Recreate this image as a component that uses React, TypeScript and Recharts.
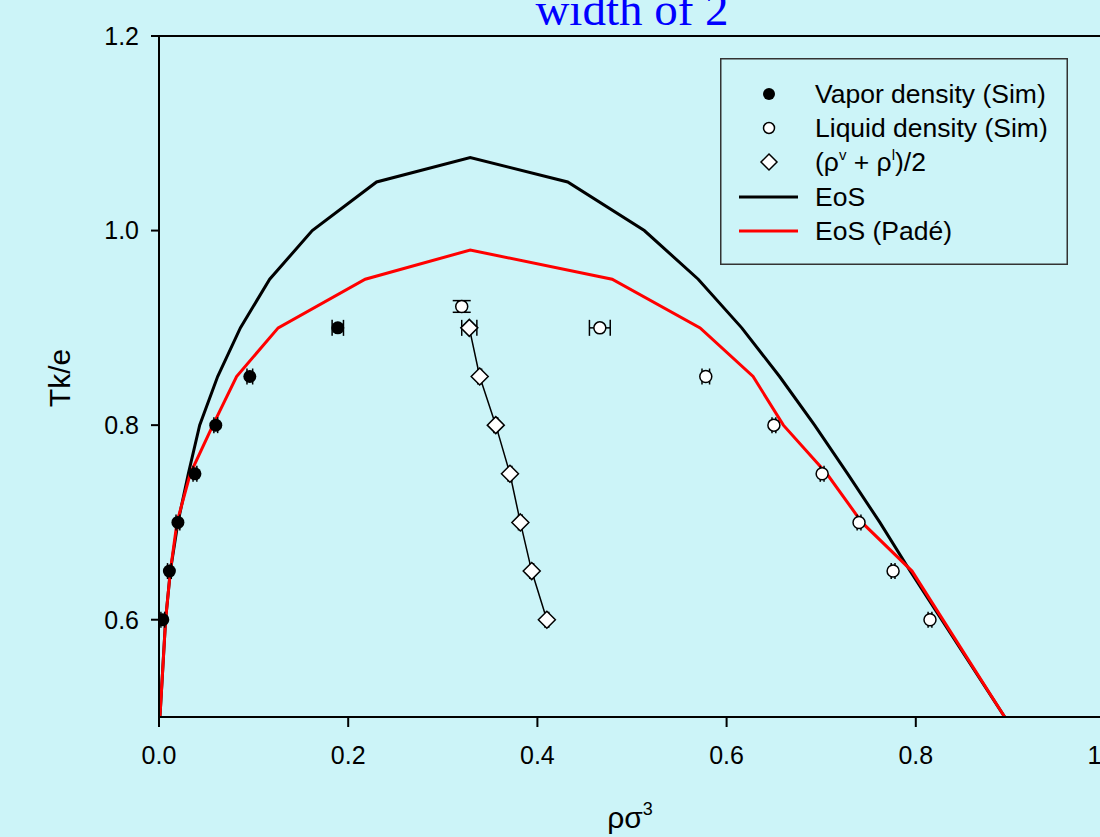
import React from 'react';
import {
  ComposedChart,
  Line,
  Scatter,
  XAxis,
  YAxis,
  ErrorBar,
  ReferenceLine,
  Legend,
} from 'recharts';

// temperatures of the simulated points
const temps = [0.6, 0.65, 0.7, 0.75, 0.8, 0.85, 0.9];

const vaporX = [0.004, 0.011, 0.02, 0.038, 0.06, 0.096, 0.189];
const vaporErr = [0.002, 0.002, 0.002, 0.002, 0.002, 0.003, 0.006];

const liquidX = [0.815, 0.776, 0.74, 0.701, 0.65, 0.578, 0.466];
const liquidErr = [0.002, 0.002, 0.002, 0.002, 0.002, 0.004, 0.011];

// extra open point near the top of the coexistence curve
const critX = [0.32];
const critT = [0.922];
const critErrX = [0.004];
const critErrT = [0.006];

const meanX = [0.41, 0.394, 0.382, 0.371, 0.356, 0.339, 0.328];
const meanErr = [0.002, 0.002, 0.002, 0.002, 0.002, 0.002, 0.008];

const eosX = [0.001, 0.004, 0.007, 0.012, 0.02, 0.031, 0.043, 0.062, 0.086, 0.117, 0.162, 0.23, 0.329,
  0.432, 0.513, 0.57, 0.616, 0.656, 0.693, 0.728, 0.762, 0.794, 0.894];
const eosT = [0.5, 0.55, 0.6, 0.65, 0.7, 0.75, 0.8, 0.85, 0.9, 0.95, 1.0, 1.05, 1.075,
  1.05, 1.0, 0.95, 0.9, 0.85, 0.8, 0.75, 0.7, 0.65, 0.5];

const padeX = [0.001, 0.004, 0.007, 0.012, 0.019, 0.033, 0.057, 0.082, 0.126, 0.218, 0.329,
  0.479, 0.572, 0.628, 0.66, 0.706, 0.743, 0.796, 0.894];
const padeT = [0.5, 0.55, 0.6, 0.65, 0.7, 0.75, 0.8, 0.85, 0.9, 0.95, 0.98,
  0.95, 0.9, 0.85, 0.8, 0.75, 0.7, 0.65, 0.5];

const xTicks = [0, 0.2, 0.4, 0.6, 0.8, 1.0];
const yTicks = [0.6, 0.8, 1.0, 1.2];

const vaporData = temps.map((t, i) => ({ x: vaporX[i], t, ex: vaporErr[i] }));
const liquidData = temps.map((t, i) => ({ x: liquidX[i], t, ex: liquidErr[i] }));
const critData = critX.map((x, i) => ({ x, t: critT[i], ex: critErrX[i], et: critErrT[i] }));
const meanData = temps.map((t, i) => ({ x: meanX[i], t, ex: meanErr[i] }));
const eosData = eosX.map((x, i) => ({ x, t: eosT[i] }));
const padeData = padeX.map((x, i) => ({ x, t: padeT[i] }));

const FONT = '"Liberation Sans", Arial, sans-serif';
const BG = '#ccf4f8';

const VaporDot = (p: any) => <circle cx={p.cx} cy={p.cy} r={6.5} fill="#000" />;
const LiquidDot = (p: any) => (
  <circle cx={p.cx} cy={p.cy} r={6} fill="#fff" stroke="#000" strokeWidth={1.5} />
);
const Diamond = (p: any) => {
  const s = 8.5;
  return (
    <polygon
      points={`${p.cx},${p.cy - s} ${p.cx + s},${p.cy} ${p.cx},${p.cy + s} ${p.cx - s},${p.cy}`}
      fill="#fff"
      stroke="#000"
      strokeWidth={1.5}
    />
  );
};

const renderLegend = () => (
  <svg width={348} height={207} style={{ display: 'block' }}>
    <rect x={0.75} y={0.75} width={346.5} height={205.5} fill="none" stroke="#333" strokeWidth={1.5} />
    <g fontFamily={FONT} fontSize={26.5} fill="#000">
      <circle cx={49} cy={36} r={6} fill="#000" />
      <text x={95} y={45}>Vapor density (Sim)</text>
      <circle cx={49} cy={70} r={5.5} fill="#fff" stroke="#000" strokeWidth={1.5} />
      <text x={95} y={79}>Liquid density (Sim)</text>
      <polygon points="49,96 57,104 49,112 41,104" fill="#fff" stroke="#000" strokeWidth={1.5} />
      <text x={95} y={113}>
        <tspan>(ρ</tspan>
        <tspan dy={-11} fontSize={15}>v</tspan>
        <tspan dy={11}> + ρ</tspan>
        <tspan dy={-11} fontSize={15}>l</tspan>
        <tspan dy={11}>)/2</tspan>
      </text>
      <line x1={19} x2={78} y1={139} y2={139} stroke="#000" strokeWidth={3} />
      <text x={95} y={148}>EoS</text>
      <line x1={19} x2={78} y1={173} y2={173} stroke="#ff0000" strokeWidth={3} />
      <text x={95} y={182}>EoS (Padé)</text>
    </g>
  </svg>
);

const App = () => {
  return (
    <div
      style={{
        position: 'absolute',
        left: 0,
        top: 0,
        width: 1100,
        height: 837,
        overflow: 'hidden',
        background: BG,
      }}
    >
      <div
        style={{
          position: 'absolute',
          left: 432,
          top: -14,
          width: 400,
          textAlign: 'center',
          fontFamily: '"Liberation Serif", "Times New Roman", serif',
          fontSize: 47,
          lineHeight: 1,
          color: '#0000ff',
          whiteSpace: 'nowrap',
          zIndex: 2,
        }}
      >
        width of 2
      </div>
      <ComposedChart
        width={1200}
        height={837}
        margin={{ top: 36, right: 95, bottom: 60, left: 79 }}
        style={{ fontFamily: FONT }}
      >
        <XAxis
          dataKey="x"
          type="number"
          domain={[0, 1]}
          ticks={xTicks}
          allowDataOverflow
          height={60}
          axisLine={{ stroke: '#000', strokeWidth: 2 }}
          tickLine={{ stroke: '#000', strokeWidth: 2 }}
          tickSize={10}
          tickMargin={19}
          tick={{ fontSize: 25, fill: '#000', fontFamily: FONT }}
          tickFormatter={(v: number) => v.toFixed(1)}
          label={{
            content: () => (
              <text x={630} y={828} textAnchor="middle" fontSize={30} fontFamily={FONT} fill="#000">
                ρσ
                <tspan dy={-13} fontSize={18}>3</tspan>
              </text>
            ),
          }}
        />
        <YAxis
          dataKey="t"
          type="number"
          domain={[0.5, 1.2]}
          ticks={yTicks}
          allowDataOverflow
          width={80}
          axisLine={{ stroke: '#000', strokeWidth: 2 }}
          tickLine={{ stroke: '#000', strokeWidth: 2 }}
          tickSize={8}
          tickMargin={12}
          tick={{ fontSize: 25, fill: '#000', fontFamily: FONT }}
          tickFormatter={(v: number) => v.toFixed(1)}
          label={{
            content: () => (
              <text
                x={70}
                y={378}
                transform="rotate(-90 70 378)"
                textAnchor="middle"
                fontSize={30}
                fontFamily={FONT}
                fill="#000"
              >
                Tk/e
              </text>
            ),
          }}
        />
        <ReferenceLine y={1.2} stroke="#000" strokeWidth={2} />
        <Legend
          layout="vertical"
          align="center"
          verticalAlign="middle"
          content={renderLegend}
          wrapperStyle={{ position: 'absolute', left: 720, top: 58, width: 348, height: 207 }}
        />
        <Line
          data={eosData}
          dataKey="t"
          type="linear"
          stroke="#000"
          strokeWidth={3}
          dot={false}
          activeDot={false}
          isAnimationActive={false}
          legendType="none"
        />
        <Line
          data={padeData}
          dataKey="t"
          type="linear"
          stroke="#ff0000"
          strokeWidth={3}
          dot={false}
          activeDot={false}
          isAnimationActive={false}
          legendType="none"
        />
        <Scatter
          data={meanData}
          line={{ stroke: '#000', strokeWidth: 1.5 }}
          lineType="joint"
          shape={Diamond}
          isAnimationActive={false}
        >
          <ErrorBar dataKey="ex" direction="x" width={8} stroke="#000" strokeWidth={1.5} />
        </Scatter>
        <Scatter data={vaporData} shape={VaporDot} isAnimationActive={false}>
          <ErrorBar dataKey="ex" direction="x" width={8} stroke="#000" strokeWidth={1.5} />
        </Scatter>
        <Scatter data={liquidData} shape={LiquidDot} isAnimationActive={false}>
          <ErrorBar dataKey="ex" direction="x" width={8} stroke="#000" strokeWidth={1.5} />
        </Scatter>
        <Scatter data={critData} shape={LiquidDot} isAnimationActive={false}>
          <ErrorBar dataKey="ex" direction="x" width={6} stroke="#000" strokeWidth={1.5} />
          <ErrorBar dataKey="et" direction="y" width={9} stroke="#000" strokeWidth={1.5} />
        </Scatter>
      </ComposedChart>
    </div>
  );
};

export default App;
